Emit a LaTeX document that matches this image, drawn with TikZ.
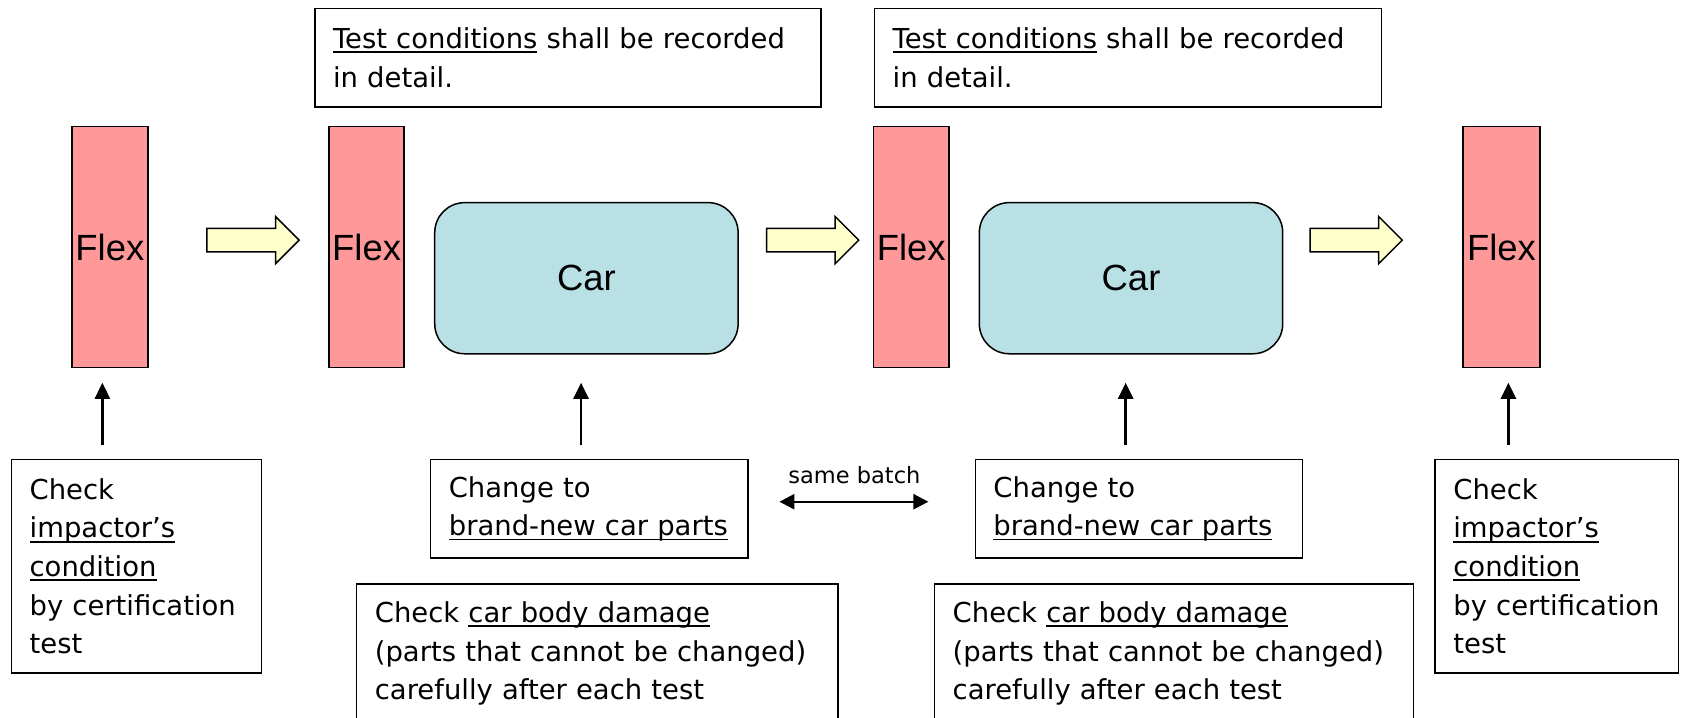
\documentclass[tikz,border=0pt]{standalone}
\usepackage{fontspec}
\setmainfont{DejaVu Sans}
\newfontfamily\arialf{Liberation Sans}
\usetikzlibrary{arrows.meta}
\newsavebox\ulnbox
\newcommand\uln[1]{\leavevmode\sbox\ulnbox{#1}\rlap{\rule[-0.17em]{\wd\ulnbox}{0.065em}}\usebox\ulnbox}
\definecolor{flexred}{HTML}{FF9999}
\definecolor{carcyan}{HTML}{B9E0E4}
\definecolor{arrowyellow}{HTML}{FFFFCC}
\newcommand\bodytext{\fontsize{25.6}{36}\selectfont}
\tikzset{
  flexbox/.style={draw, line width=1.4pt, fill=flexred, minimum width=71pt, minimum height=225pt, inner sep=0pt, font=\arialf\fontsize{34}{38}\selectfont},
  carbox/.style={draw, line width=1.4pt, fill=carcyan, rounded corners=28pt, minimum width=283pt, minimum height=141pt, inner sep=0pt, font=\arialf\fontsize{34}{38}\selectfont},
  textbox/.style={draw, line width=1.3pt, anchor=north west, inner xsep=17pt, inner ysep=0pt, align=left, font=\bodytext},
  varrow/.style={line width=2.4pt, -{Triangle[length=15pt,width=14pt]}},
  darrow/.style={line width=2.2pt, {Triangle[length=14pt,width=14pt]}-{Triangle[length=14pt,width=14pt]}},
  yarrow/.pic={\draw[line width=1.4pt, fill=arrowyellow, line join=miter]
     (0,-11) -- (64,-11) -- (64,-22) -- (86,0) -- (64,22) -- (64,11) -- (0,11) -- cycle;}
}
\begin{document}
\begin{tikzpicture}[x=1pt,y=-1pt]
\useasboundingbox[fill=white] (0,0) rectangle (1568,669);

% Flex bars
\node[flexbox] (F1) at (102.5,230.5) {Flex};
\node[flexbox, minimum width=70pt] (F2) at (342,230.5) {Flex};
\node[flexbox, minimum width=70pt] (F3) at (850,230.5) {Flex};
\node[flexbox, minimum width=72pt] (F4) at (1400.5,230.5) {Flex};

% Cars
\node[carbox] (C1) at (547,259.5) {Car};
\node[carbox] (C2) at (1055,259.5) {Car};

% Block arrows
\pic at (193,224) {yarrow};
\pic at (715,224) {yarrow};
\pic at (1222,224) {yarrow};

% Top boxes
\node[textbox, minimum width=472pt, text width=438pt, minimum height=92pt] (T1) at (293,7)
  {\uln{Test conditions} shall be recorded\\in detail.};
\node[textbox, minimum width=473pt, text width=439pt, minimum height=92pt] (T2) at (815,7)
  {\uln{Test conditions} shall be recorded\\in detail.};

% Bottom boxes
\node[textbox, minimum width=233pt, text width=199pt, minimum height=199pt] (B1) at (10,428)
  {Check\\\uln{impactor’s}\\\uln{condition}\\by certification\\test};
\node[textbox, minimum width=227pt, text width=193pt, minimum height=199pt] (B4) at (1338,428)
  {Check\\\uln{impactor’s}\\\uln{condition}\\by certification\\test};
\node[textbox, minimum width=296pt, text width=262pt, minimum height=92pt] (CB1) at (401,428)
  {Change to\\\uln{brand-new car parts}};
\node[textbox, minimum width=305pt, text width=271pt, minimum height=92pt] (CB2) at (909,428)
  {Change to\\\uln{brand-new car parts}};
\node[textbox, minimum width=449pt, text width=415pt, minimum height=130pt] (D1) at (332,544)
  {Check \uln{car body damage}\\(parts that cannot be changed)\\carefully after each test};
\node[textbox, minimum width=447pt, text width=413pt, minimum height=130pt] (D2) at (871,544)
  {Check \uln{car body damage}\\(parts that cannot be changed)\\carefully after each test};

% vertical arrows
\coordinate (s1) at (95.5,415);  \coordinate (e1) at (95.5,357);
\coordinate (s2) at (542,415);   \coordinate (e2) at (542,357);
\coordinate (s3) at (1050,415);  \coordinate (e3) at (1050,357);
\coordinate (s4) at (1407,415);  \coordinate (e4) at (1407,357);
\draw[varrow] (s1) -- (e1);
\draw[varrow] (s2) -- (e2);
\draw[varrow] (s3) -- (e3);
\draw[varrow] (s4) -- (e4);

% same batch
\coordinate (dl) at (727,468);
\coordinate (dr) at (866,468);
\draw[darrow] (dl) -- (dr);
\node[anchor=base, inner sep=0pt, font=\fontsize{21}{24}\selectfont] (sb) at (797,451) {same batch};
\end{tikzpicture}
\end{document}
